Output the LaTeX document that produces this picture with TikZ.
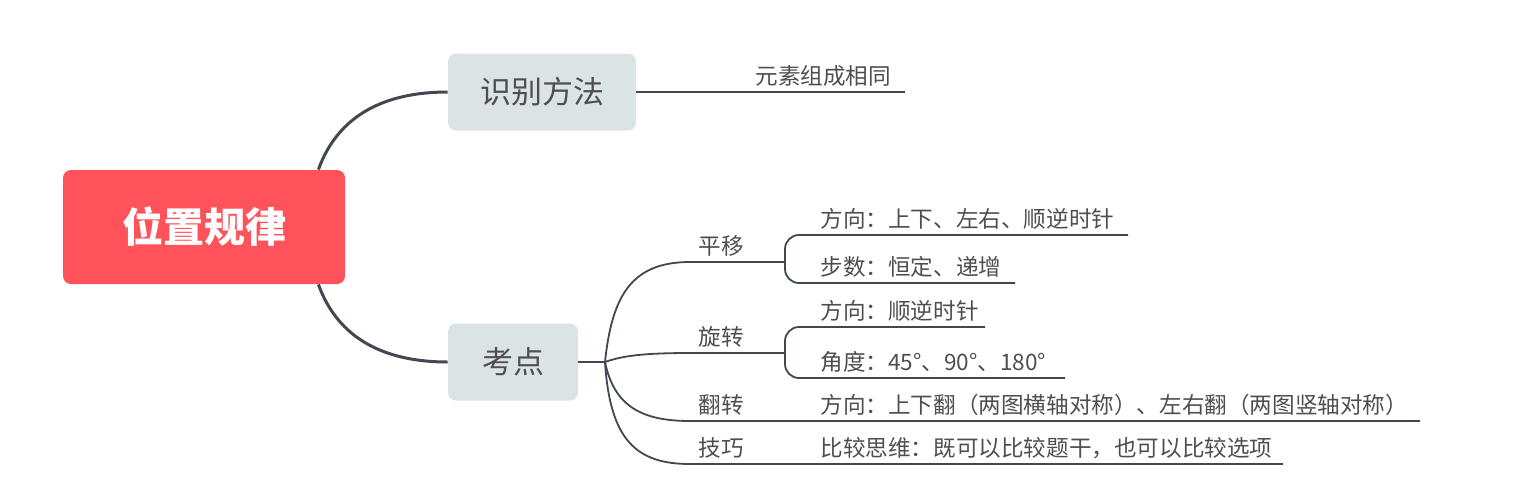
\documentclass[tikz,border=0pt]{standalone}
\usepackage{fontspec}
\setmainfont{Noto Sans CJK SC}
\usepackage{tikz}
\usetikzlibrary{calc}
\usepackage{xcolor}

\definecolor{rootred}{HTML}{FF525B}
\definecolor{topicgray}{HTML}{DCE3E5}
\definecolor{linegray}{HTML}{424850}
\definecolor{textgray}{HTML}{4E4E4E}

\begin{document}
\begin{tikzpicture}[x=0.5pt, y=-0.5pt,
  root/.style={fill=rootred, rounded corners=4pt, minimum width=141pt, minimum height=57pt, text=white, font=\fontsize{20.5}{24}\selectfont\bfseries},
  topic/.style={fill=topicgray, rounded corners=4pt, minimum height=38.5pt, text=textgray, font=\fontsize{15.5}{18}\selectfont},
  leaf/.style={anchor=south west, inner sep=1pt, text=textgray, font=\fontsize{11.3}{13}\selectfont},
  bigline/.style={draw=linegray, line width=1.5pt},
  thinline/.style={draw=linegray, line width=0.9pt}]
  \useasboundingbox (0,0) rectangle (1514,478);

  % Nodes
  \node[root] (root) at (204,227) {位置规律};
  \node[topic, minimum width=94pt] (sbff) at (542,92) {识别方法};
  \node[topic, minimum width=65pt] (kd) at (513,362) {考点};

  \coordinate (ysEnd) at (905,92);
  \coordinate (kdFork) at (605,362);
  \coordinate (pyA) at (690,262);
  \coordinate (pyFork) at (785,262);
  \coordinate (pyFxEnd) at (1128,235);
  \coordinate (pyBsEnd) at (1015,283);
  \coordinate (xzA) at (690,353);
  \coordinate (xzFork) at (785,353);
  \coordinate (xzFxEnd) at (985,327);
  \coordinate (xzJdEnd) at (1065,378);
  \coordinate (fzA) at (690,421);
  \coordinate (fzEnd) at (1420,421);
  \coordinate (jqA) at (690,464);
  \coordinate (jqEnd) at (1283,464);

  % Labels
  \node[leaf] (ys) at (753,89) {元素组成相同};
  \node[leaf] (py) at (696,259) {平移};
  \node[leaf] (pyFx) at (818,232) {方向：上下、左右、顺逆时针};
  \node[leaf] (pyBs) at (818,280) {步数：恒定、递增};
  \node[leaf] (xz) at (696,350) {旋转};
  \node[leaf] (xzFx) at (818,324) {方向：顺逆时针};
  \node[leaf] (xzJd) at (818,375) {角度：45°、90°、180°};
  \node[leaf] (fz) at (696,418) {翻转};
  \node[leaf] (fzFx) at (818,418) {方向：上下翻（两图横轴对称）、左右翻（两图竖轴对称）};
  \node[leaf] (jq) at (696,461) {技巧};
  \node[leaf] (jqBj) at (818,461) {比较思维：既可以比较题干，也可以比较选项};

  % Edges
  \draw[bigline] ([xshift=-13.5pt]root.north east) .. controls (338,115) and (385,92) .. (sbff.west);
  \draw[bigline] ([xshift=-13.5pt]root.south east) .. controls (338,339) and (385,362) .. (kd.west);

  \draw[thinline] (sbff.east) -- (ysEnd);
  \draw[thinline] (kd.east) -- (kdFork);

  \draw[thinline] (kdFork) .. controls (612,295) and (632,262) .. (pyA) -- (pyFork);
  \draw[thinline] (kdFork) .. controls (622,356) and (642,353) .. (xzA) -- (xzFork);
  \draw[thinline] (kdFork) .. controls (614,405) and (640,421) .. (fzA) -- (fzEnd);
  \draw[thinline] (kdFork) .. controls (610,440) and (636,464) .. (jqA) -- (jqEnd);

  \draw[thinline, rounded corners=7pt] (pyFork) |- (pyFxEnd);
  \draw[thinline, rounded corners=7pt] (pyFork) |- (pyBsEnd);
  \draw[thinline, rounded corners=7pt] (xzFork) |- (xzFxEnd);
  \draw[thinline, rounded corners=7pt] (xzFork) |- (xzJdEnd);
\end{tikzpicture}
\end{document}
